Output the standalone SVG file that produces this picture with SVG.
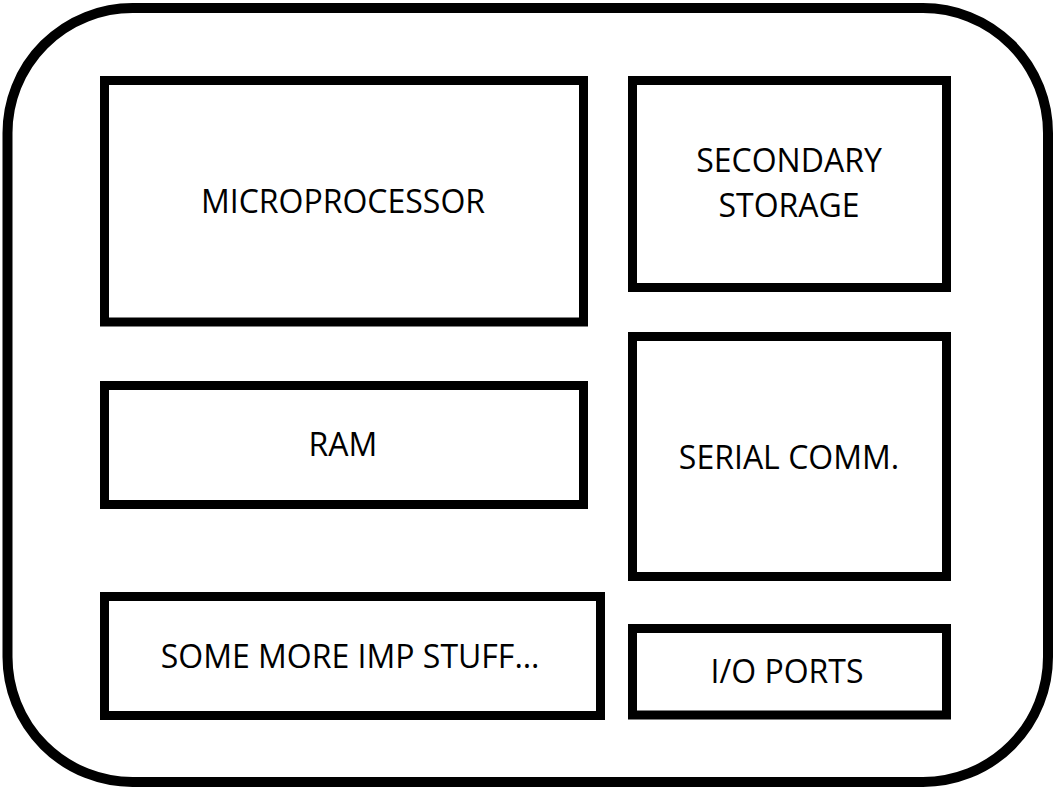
<svg xmlns="http://www.w3.org/2000/svg" width="1055" height="790" viewBox="0 0 1055 790">
<style>
.box{fill:none;stroke:#000;stroke-width:9}
.outer{fill:#fff;stroke:#000;stroke-width:10}
text{font-family:"Open Sans","Liberation Sans",sans-serif;font-size:32px;fill:#000;text-anchor:middle}
</style>
<rect width="1055" height="790" fill="#fff"/>
<g id="board"><rect class="outer" x="7.5" y="8" width="1040.5" height="774" rx="125" ry="125"/></g>
<g id="microprocessor"><rect class="box" x="104.5" y="80.5" width="479" height="241.5"/><text x="343" y="213">MICROPROCESSOR</text></g>
<g id="secondary-storage"><rect class="box" x="632.5" y="80.5" width="314" height="207"/><text x="789" y="172">SECONDARY</text><text x="789" y="216.5">STORAGE</text></g>
<g id="ram"><rect class="box" x="104.5" y="385.5" width="479" height="119"/><text x="343" y="456">RAM</text></g>
<g id="serial-comm"><rect class="box" x="632.5" y="336.5" width="314" height="240"/><text x="789" y="469">SERIAL COMM.</text></g>
<g id="some-more"><rect class="box" x="104.5" y="596.5" width="496" height="119"/><text x="350" y="668">SOME MORE IMP STUFF…</text></g>
<g id="io-ports"><rect class="box" x="632.5" y="628.5" width="314" height="86.5"/><text x="787" y="683">I/O PORTS</text></g>
<g id="connectors"></g>
</svg>
